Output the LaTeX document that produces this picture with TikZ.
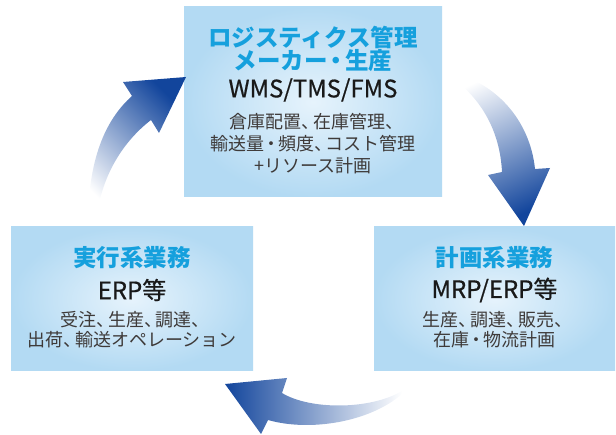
\documentclass[tikz,border=0pt]{standalone}
\usepackage{fontspec}
\setmainfont{Noto Sans CJK JP}
\newfontfamily\sysfont{Noto Sans CJK JP}[FakeBold=0.6]
\definecolor{panelin}{HTML}{E6F3FC}
\definecolor{panelout}{HTML}{B3DAF3}
\definecolor{headcyan}{HTML}{15A0DD}
\definecolor{arrowblue}{HTML}{12459C}
\definecolor{bodygray}{HTML}{3E3A39}
% half-width punctuation
\newcommand{\toten}{、\kern-.35em}
\newcommand{\nakaguro}{\kern-.12em・\kern-.12em}

\tikzset{
  panel/.style={rectangle, draw=none, inner color=panelin, outer color=panelout},
  heading/.style={text=headcyan, align=center,
    font=\fontsize{23.5}{23}\selectfont\bfseries},
  system/.style={text=black!90, font=\fontsize{24}{23}\sysfont},
  detail/.style={text=bodygray, align=center},
}

\begin{document}
\begin{tikzpicture}[x=1pt, y=-1pt]
  \useasboundingbox (0,0) rectangle (616,435);

  % three panels
  \node[panel, minimum width=258pt, minimum height=190pt] (logi) at (313,102) {};
  \node[panel, minimum width=242pt, minimum height=144pt] (jikko) at (132,299) {};
  \node[panel, minimum width=241pt, minimum height=144pt] (keikaku) at (494.5,299) {};

  % top panel text
  \node[heading] (logihead) at (313,48.5) {ロジスティクス管理\\メーカー\nakaguro 生産};
  \node[system] (logisys) at (313,90) {WMS/TMS/FMS};
  \node[detail, font=\fontsize{18}{22}\selectfont] (logibody) at (313,144)
    {倉庫配置\toten 在庫管理\toten\\輸送量\nakaguro 頻度\toten コスト管理\\+リソース計画};

  % left panel text
  \node[heading] (jikkohead) at (132,258) {実行系業務};
  \node[system] (jikkosys) at (132,290) {ERP等};
  \node[detail, font=\fontsize{18}{20}\selectfont] (jikkobody) at (132,330)
    {受注\toten 生産\toten 調達\toten\\出荷\toten 輸送オペレーション};

  % right panel text
  \node[heading] (keikakuhead) at (494.5,258) {計画系業務};
  \node[system] (keikakusys) at (494.5,290) {MRP/ERP等};
  \node[detail, font=\fontsize{18}{20}\selectfont] (keikakubody) at (494.5,330)
    {生産\toten 調達\toten 販売\toten\\在庫\nakaguro 物流計画};

  % curved arrows
  \shade[top color=arrowblue, bottom color=white, shading angle=-45]
    (88,224) .. controls (88,160) and (105,120) .. (132,96) -- (123,82)
    -- (186,77) -- (159,133) -- (151,120)
    .. controls (125,140) and (100,175) .. (96,224) -- cycle;
  \shade[top color=arrowblue, bottom color=white, shading angle=205]
    (445,71) .. controls (495,80) and (530,120) .. (535,169) -- (550,168)
    -- (524,226) -- (488,175) -- (502,172)
    .. controls (500,130) and (480,95) .. (445,73) -- cycle;
  \shade[left color=arrowblue, right color=white]
    (402,391) .. controls (370,410) and (310,410) .. (282,393) -- (287,378)
    -- (225,384) -- (261,434) -- (268,420)
    .. controls (310,432) and (370,422) .. (402,394) -- cycle;
\end{tikzpicture}
\end{document}
